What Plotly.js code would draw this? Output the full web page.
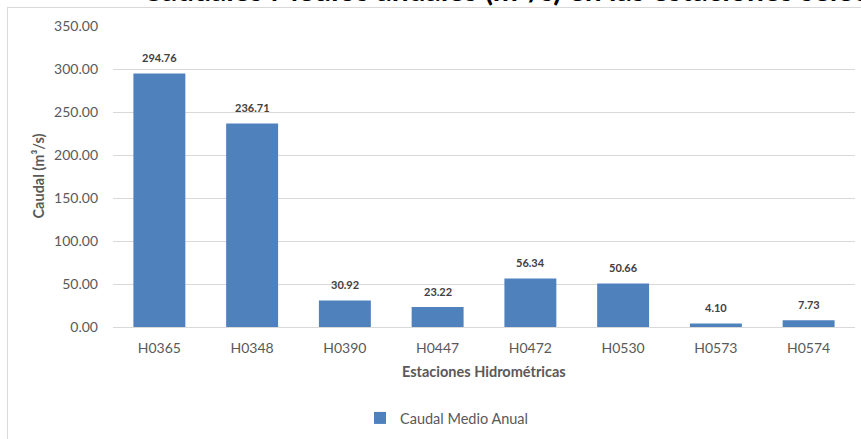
<!DOCTYPE html>
<html>
<head>
<meta charset="utf-8">
<script src="https://cdn.plot.ly/plotly-3.0.1.min.js"></script>
<style>
  html, body { margin: 0; padding: 0; background: #ffffff; overflow: hidden; }
  #frame { position: absolute; left: 7px; top: 7px; width: 940px; height: 520px; border: 1px solid #D9D9D9; box-sizing: border-box; }
  #chart { position: absolute; left: 0; top: 0; width: 861px; height: 439px; }
</style>
</head>
<body>
<div id="frame"></div>
<div id="chart"></div>
<script>
const stations = ["H0365", "H0348", "H0390", "H0447", "H0472", "H0530", "H0573", "H0574"];
const caudalMedio = [294.76, 236.71, 30.92, 23.22, 56.34, 50.66, 4.10, 7.73];
const yTicks = [0, 50, 100, 150, 200, 250, 300, 350];
const chartTitle = "Caudales Medios anuales (m³/s) en las estaciones seleccionadas";

const FONT = "Lato, 'Open Sans', sans-serif";

const trace = {
  type: "bar",
  x: stations,
  y: caudalMedio,
  name: "Caudal Medio Anual",
  marker: { color: "#4F81BD" },
  hoverinfo: "x+y"
};

const labels = stations.map((s, i) => ({
  x: s, y: caudalMedio[i], xref: "x", yref: "y",
  text: caudalMedio[i].toFixed(2),
  showarrow: false, yanchor: "middle", yshift: 16,
  font: { family: FONT, size: 11, color: "#404040", weight: "bold" }
}));

const layout = {
  width: 861, height: 439,
  paper_bgcolor: "rgba(0,0,0,0)",
  plot_bgcolor: "rgba(0,0,0,0)",
  margin: { l: 113, r: 6, t: 26, b: 111 },
  font: { family: FONT, size: 14, color: "#595959" },
  bargap: 0.44,
  xaxis: {
    type: "category",
    showgrid: false,
    showline: false,
    ticks: "",
    ticklabelstandoff: 11,
    tickfont: { family: FONT, size: 14, color: "#595959" }
  },
  yaxis: {
    range: [0, 350],
    tickvals: yTicks,
    tickformat: ".2f",
    showgrid: true,
    gridcolor: "#D9D9D9",
    gridwidth: 1,
    zeroline: true,
    zerolinecolor: "#D9D9D9",
    zerolinewidth: 1,
    showline: false,
    ticks: "",
    ticklabelstandoff: 14,
    tickfont: { family: FONT, size: 14, color: "#595959" }
  },
  showlegend: true,
  legend: {
    orientation: "h",
    x: (360 - 113) / 742, xanchor: "left",
    y: (328 - 418) / 302, yanchor: "middle",
    font: { family: FONT, size: 14.5, color: "#595959" },
    itemwidth: 30,
    bgcolor: "rgba(0,0,0,0)"
  },
  annotations: labels.concat([
    {
      text: chartTitle,
      xref: "paper", yref: "paper",
      x: (140 - 113) / 742, y: (328 - 9) / 302,
      xanchor: "left", yanchor: "bottom",
      showarrow: false,
      font: { family: FONT, size: 30, color: "#000000", weight: "bold" }
    },
    {
      text: "Estaciones Hidrométricas",
      xref: "paper", yref: "paper",
      x: 0.5, y: (328 - 373) / 302,
      xanchor: "center", yanchor: "middle",
      showarrow: false,
      font: { family: FONT, size: 14.5, color: "#595959", weight: "bold" }
    },
    {
      text: "Caudal (m³/s)",
      xref: "paper", yref: "paper",
      x: (38 - 113) / 742, y: 0.5,
      xanchor: "center", yanchor: "middle",
      textangle: -90,
      showarrow: false,
      font: { family: FONT, size: 14.5, color: "#595959", weight: "bold" }
    }
  ])
};

Plotly.newPlot("chart", [trace], layout, { displayModeBar: false, staticPlot: true });
</script>
</body>
</html>
